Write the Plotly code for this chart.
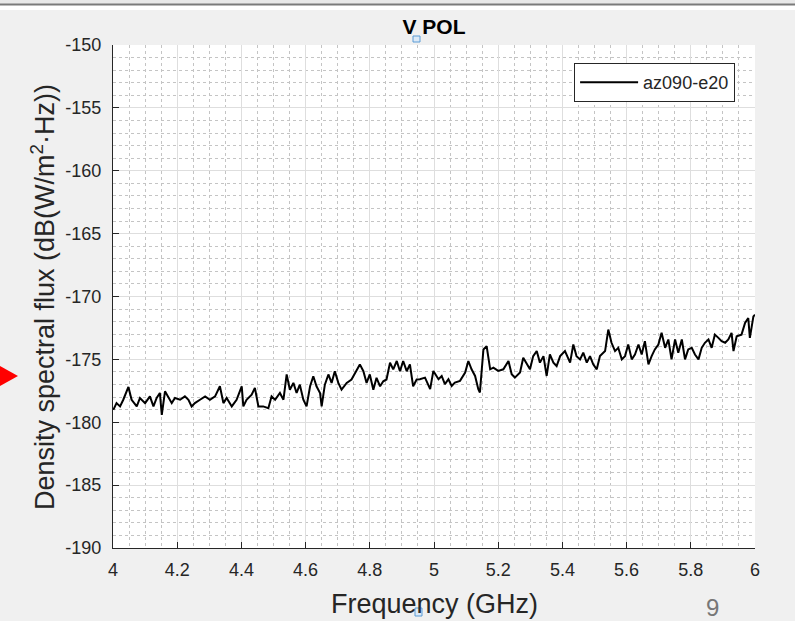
import plotly.graph_objects as go

freq_ghz = [
    4.001, 4.011, 4.022, 4.032, 4.048, 4.058, 4.074, 4.084, 4.100, 4.115,
    4.126, 4.136, 4.146, 4.152, 4.162, 4.172, 4.183, 4.193, 4.209, 4.224,
    4.235, 4.245, 4.255, 4.271, 4.287, 4.302, 4.318, 4.333, 4.344, 4.354,
    4.370, 4.385, 4.401, 4.406, 4.416, 4.432, 4.442, 4.453, 4.468, 4.484,
    4.494, 4.505, 4.520, 4.531, 4.541, 4.551, 4.562, 4.572, 4.582, 4.593,
    4.603, 4.614, 4.624, 4.634, 4.645, 4.650, 4.660, 4.671, 4.681, 4.691,
    4.702, 4.712, 4.728, 4.743, 4.754, 4.769, 4.780, 4.790, 4.800, 4.811,
    4.821, 4.832, 4.842, 4.852, 4.863, 4.873, 4.884, 4.894, 4.904, 4.915,
    4.925, 4.935, 4.946,
    4.956, 4.972, 4.988, 4.998, 5.014, 5.024, 5.034, 5.045, 5.055, 5.065,
    5.081, 5.097, 5.107, 5.117, 5.128, 5.138, 5.143, 5.154, 5.164, 5.175,
    5.185, 5.200, 5.216, 5.232, 5.242, 5.252, 5.268, 5.278, 5.289, 5.299,
    5.309, 5.320, 5.330, 5.341, 5.351, 5.361, 5.372, 5.382, 5.393, 5.408,
    5.424, 5.434, 5.444, 5.455, 5.465, 5.476, 5.486, 5.496, 5.507, 5.517,
    5.533, 5.543, 5.553, 5.564, 5.574, 5.585, 5.595, 5.605, 5.616, 5.626,
    5.637, 5.647, 5.657, 5.668, 5.678, 5.688, 5.699, 5.709, 5.720, 5.730,
    5.740, 5.751, 5.761, 5.772, 5.782, 5.792, 5.803, 5.813, 5.824, 5.834,
    5.844, 5.855, 5.865, 5.875, 5.886, 5.896, 5.907, 5.917, 5.927, 5.933,
    5.943, 5.958, 5.969, 5.979, 5.984, 5.995, 6.000,
]

flux_db = [
    -179.01, -178.48, -178.74, -178.21, -177.19, -178.21, -178.74, -178.07, -178.48, -177.94,
    -178.74, -178.07, -177.67, -179.41, -177.54, -177.94, -178.48, -178.07, -178.21, -177.94,
    -178.21, -178.74, -178.48, -178.21, -177.94, -178.21, -177.94, -177.14, -178.48, -178.07,
    -178.74, -178.21, -177.14, -178.74, -178.21, -177.81, -177.27, -178.74, -178.74, -178.88,
    -177.94, -178.21, -177.67, -178.21, -176.20, -177.41, -176.87, -177.67, -177.01, -178.21,
    -178.74, -177.14, -176.34, -177.14, -177.67, -178.74, -177.01, -176.20, -176.87, -175.94,
    -176.87, -177.41, -176.87, -176.60, -176.07, -175.40, -175.94, -176.87, -176.20, -177.41,
    -176.47, -177.14, -176.74, -176.60, -175.27, -175.80, -175.13, -175.94, -175.13, -175.94,
    -175.40, -177.14, -176.60,
    -176.58, -176.45, -177.37, -175.92, -176.58, -176.32, -176.97, -176.58, -177.11, -176.84,
    -176.71, -176.05, -175.13, -175.79, -176.32, -177.37, -177.63, -174.21, -173.95, -175.79,
    -175.66, -175.92, -175.79, -175.13, -176.18, -176.45, -176.05, -174.87, -175.39, -175.79,
    -174.74, -174.34, -175.26, -174.74, -176.32, -174.61, -175.26, -175.53, -174.74, -174.34,
    -175.26, -173.82, -174.74, -175.00, -174.47, -175.26, -174.74, -175.39, -175.79, -174.74,
    -174.34, -172.63, -173.68, -174.34, -174.08, -175.00, -174.74, -173.82, -175.00, -174.61,
    -173.82, -174.61, -173.55, -175.39, -174.74, -174.21, -173.82, -172.89, -174.08, -173.42,
    -175.00, -173.42, -174.47, -173.42, -175.00, -174.21, -174.08, -174.61, -175.00, -174.08,
    -173.68, -173.42, -174.08, -173.03, -173.29, -173.55, -173.68, -173.42, -172.89, -174.34,
    -173.16, -173.03, -172.11, -171.71, -173.29, -171.58, -171.45,
]

series_name = "az090-e20"
x_ticks = [4, 4.2, 4.4, 4.6, 4.8, 5, 5.2, 5.4, 5.6, 5.8, 6]
x_tick_labels = ["4", "4.2", "4.4", "4.6", "4.8", "5", "5.2", "5.4", "5.6", "5.8", "6"]
y_ticks = [-190, -185, -180, -175, -170, -165, -160, -155, -150]
y_tick_labels = ["-190", "-185", "-180", "-175", "-170", "-165", "-160", "-155", "-150"]

FONT = "Liberation Sans, Arial, sans-serif"
TXT = "#262626"

fig = go.Figure()
fig.add_trace(go.Scatter(
    x=freq_ghz, y=flux_db, mode="lines", name=series_name,
    line=dict(color="black", width=2),
))

axis_common = dict(
    showline=True, linecolor="#262626", linewidth=1.2,
    ticks="inside", ticklen=6, tickcolor="#262626", tickwidth=1,
    showgrid=True, gridcolor="#dedede", gridwidth=1,
    zeroline=False, mirror=False,
    tickfont=dict(family=FONT, size=18, color=TXT),
)

fig.update_xaxes(
    range=[4, 6], tickvals=x_ticks, ticktext=x_tick_labels,
    minor=dict(dtick=0.05, showgrid=True, gridcolor="#c4c4c4", griddash="dot", gridwidth=1, ticks=""),
    ticklabelstandoff=5,
    **axis_common,
)
fig.update_yaxes(
    range=[-190, -150], tickvals=y_ticks, ticktext=y_tick_labels,
    minor=dict(dtick=1, showgrid=True, gridcolor="#c4c4c4", griddash="dot", gridwidth=1, ticks=""),
    ticklabelstandoff=7,
    **axis_common,
)

fig.update_layout(
    width=795, height=621,
    margin=dict(l=113, r=40, t=45, b=73),
    paper_bgcolor="#f0f0f0", plot_bgcolor="white",
    title=dict(text="<b>V POL</b>", x=(434 / 795), xanchor="center",
               y=1 - 27 / 621, yanchor="middle", yref="container",
               font=dict(family=FONT, size=21, color="black")),
    showlegend=True,
    legend=dict(x=0.969, xanchor="right", y=0.964, yanchor="top",
                bgcolor="white", bordercolor="#262626", borderwidth=1,
                font=dict(family=FONT, size=18, color=TXT),
                itemwidth=58, tracegroupgap=0),
    annotations=[
        dict(text="Density spectral flux (dB(W/m<sup>2</sup>·Hz))", textangle=-90,
             x=(43 - 113) / 642, y=(548 - 297) / 503, xref="paper", yref="paper",
             xanchor="center", yanchor="middle",
             showarrow=False, font=dict(family=FONT, size=27, color=TXT)),
        dict(text="Frequency (GHz)", x=(435 - 113) / 642, y=(548 - 604) / 503,
             xref="paper", yref="paper", xanchor="center", yanchor="middle",
             showarrow=False, font=dict(family=FONT, size=27, color=TXT)),
        dict(text="9", x=(712 - 113) / 642, y=(548 - 607) / 503,
             xref="paper", yref="paper", xanchor="center", yanchor="middle",
             showarrow=False, font=dict(family=FONT, size=24, color="#777777")),
    ],
    shapes=[
        dict(type="rect", xref="paper", yref="paper",
             x0=-113 / 642, x1=(795 - 113) / 642,
             y0=(548 - 10) / 503, y1=548 / 503,
             fillcolor="white", line=dict(width=0), layer="below"),
        dict(type="rect", xref="paper", yref="paper",
             x0=-113 / 642, x1=(795 - 113) / 642,
             y0=(548 - 4) / 503, y1=548 / 503,
             fillcolor="#e8e8e8", line=dict(width=0), layer="below"),
        dict(type="line", xref="paper", yref="paper",
             x0=-113 / 642, x1=(795 - 113) / 642,
             y0=(548 - 4.5) / 503, y1=(548 - 4.5) / 503,
             line=dict(color="#7a7a7a", width=2)),
        dict(type="path", xref="paper", yref="paper",
             path="M {} {} L {} {} L {} {} Z".format(
                 -113 / 642, (548 - 366) / 503,
                 (18 - 113) / 642, (548 - 376) / 503,
                 -113 / 642, (548 - 386) / 503),
             fillcolor="red", line=dict(width=0)),
        dict(type="rect", xref="paper", yref="paper",
             x0=(413 - 113) / 642, x1=(420 - 113) / 642,
             y0=(548 - 42) / 503, y1=(548 - 36) / 503,
             fillcolor="#dbe9f7", line=dict(color="#5b9bd5", width=1)),
        dict(type="rect", xref="paper", yref="paper",
             x0=(415 - 113) / 642, x1=(422 - 113) / 642,
             y0=(548 - 616) / 503, y1=(548 - 608) / 503,
             fillcolor="#dbe9f7", line=dict(color="#5b9bd5", width=1)),
    ],
)

fig.write_html("out.html")
